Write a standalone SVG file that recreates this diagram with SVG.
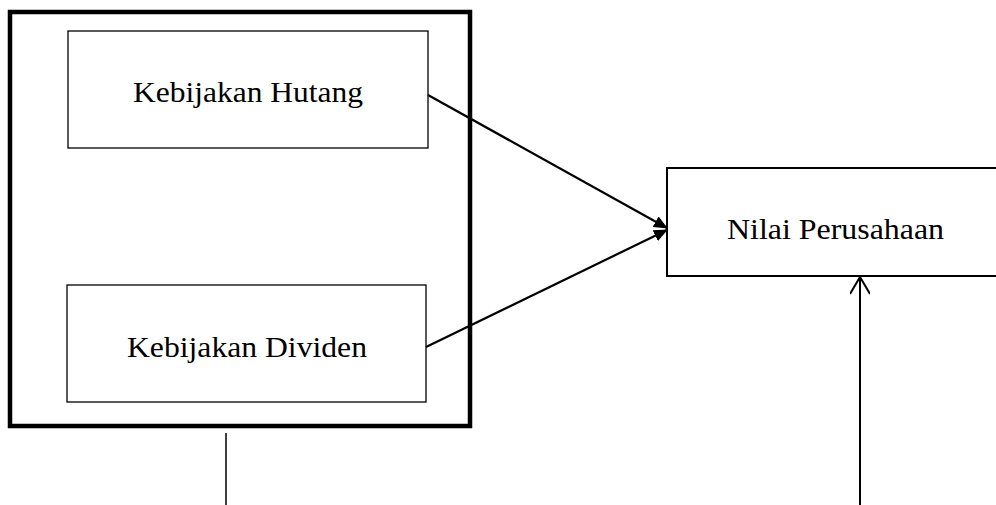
<svg xmlns="http://www.w3.org/2000/svg" width="996" height="505" viewBox="0 0 996 505">
<style>
.lbl{font-family:"Liberation Serif","Times New Roman",serif;font-size:29px;fill:#000;text-anchor:middle}
.box{fill:#fff;stroke:#000}
.con{stroke:#000;fill:none}
</style>
<defs>
<marker id="fill" markerWidth="14" markerHeight="12" refX="13" refY="6" orient="auto" markerUnits="userSpaceOnUse">
<path d="M0,0 L14,6 L0,12 Z" fill="#000"/>
</marker>
<marker id="open" markerWidth="22" markerHeight="20" refX="20" refY="10" orient="auto" markerUnits="userSpaceOnUse">
<path d="M3,0 L20,10 L3,20" fill="none" stroke="#000" stroke-width="2"/>
</marker>
</defs>
<rect width="996" height="505" fill="#fff"/>
<g id="group-outer">
<rect class="box" x="10" y="12" width="460" height="414" stroke-width="4.5"/>
</g>
<g id="node-hutang">
<rect class="box" x="68" y="31" width="360" height="117" stroke-width="1.3"/>
<text class="lbl" x="248" y="102" textLength="230" lengthAdjust="spacingAndGlyphs">Kebijakan Hutang</text>
</g>
<g id="node-dividen">
<rect class="box" x="67" y="285" width="359" height="117" stroke-width="1.3"/>
<text class="lbl" x="247" y="357" textLength="240" lengthAdjust="spacingAndGlyphs">Kebijakan Dividen</text>
</g>
<g id="node-nilai">
<rect class="box" x="667" y="168" width="340" height="108" stroke-width="2"/>
<text class="lbl" x="835.5" y="239" textLength="217" lengthAdjust="spacingAndGlyphs">Nilai Perusahaan</text>
</g>
<g id="connectors">
<line class="con" x1="428" y1="95" x2="667" y2="228" stroke-width="2.2" marker-end="url(#fill)"/>
<line class="con" x1="426" y1="347" x2="667" y2="230" stroke-width="2.2" marker-end="url(#fill)"/>
<line class="con" x1="226" y1="433" x2="226" y2="505" stroke-width="1.5"/>
<line class="con" x1="860" y1="505" x2="860" y2="277" stroke-width="2" marker-end="url(#open)"/>
</g>
</svg>
